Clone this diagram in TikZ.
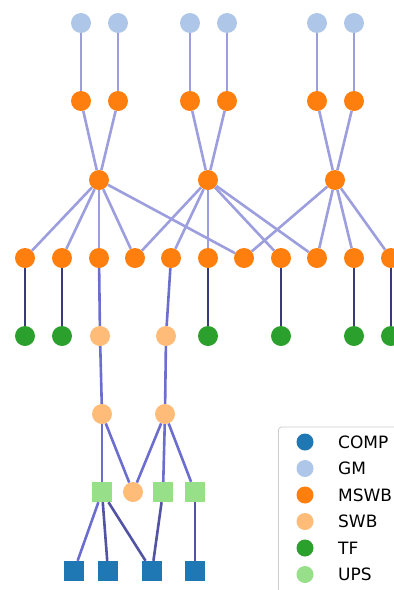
\documentclass[tikz,border=0pt]{standalone}
\usepackage{fontspec}
\setmainfont{DejaVu Sans}
\usetikzlibrary{positioning}

\definecolor{compc}{HTML}{1F77B4}
\definecolor{gmc}{HTML}{AEC7E8}
\definecolor{mswbc}{HTML}{FF7F0E}
\definecolor{swbc}{HTML}{FFBB78}
\definecolor{tfc}{HTML}{2CA02C}
\definecolor{upsc}{HTML}{98DF8A}
\definecolor{wireA}{HTML}{9C9EDE}
\definecolor{wireB}{HTML}{6B6ECF}
\definecolor{wireC}{HTML}{5254A3}
\definecolor{wireD}{HTML}{393B79}

\begin{document}
\begin{tikzpicture}[x=1pt,y=-1pt,
    dot/.style={circle,inner sep=0pt,minimum size=20pt,fill=#1},
    sq/.style={rectangle,inner sep=0pt,minimum size=20pt,fill=#1},
    feed/.style={line width=2.6pt,color=#1}]
    \clip (0,0) rectangle (394,590);

    % Generators and their switchboards
    \foreach \i/\x in {1/81,2/118,3/190,4/227,5/317,6/354} {
        \node[dot=gmc] (gm\i) at (\x,23) {};
        \node[dot=mswbc] (top\i) at (\x,101) {};
        \draw[feed=wireA] (gm\i) -- (top\i);
    }

    % Main switchboards
    \node[dot=mswbc] (hub1) at (99,180) {};
    \node[dot=mswbc] (hub2) at (208,180) {};
    \node[dot=mswbc] (hub3) at (335,180) {};
    \draw[feed=wireA] (top1) -- (hub1);
    \draw[feed=wireA] (top2) -- (hub1);
    \draw[feed=wireA] (top3) -- (hub2);
    \draw[feed=wireA] (top4) -- (hub2);
    \draw[feed=wireA] (top5) -- (hub3);
    \draw[feed=wireA] (top6) -- (hub3);

    % Distribution row
    \foreach \i/\x in {1/25,2/62,3/99,4/135,5/171,6/208,7/244,8/281,9/317,10/354,11/391}
        \node[dot=mswbc] (ms\i) at (\x,258) {};
    \foreach \j in {1,2,3,4,7} \draw[feed=wireA] (hub1) -- (ms\j);
    \foreach \j in {4,5,6,8,9} \draw[feed=wireA] (hub2) -- (ms\j);
    \foreach \j in {7,9,10,11} \draw[feed=wireA] (hub3) -- (ms\j);

    % Transformers
    \foreach \i/\j/\x in {1/1/25,2/2/62,3/6/208,4/8/281,5/10/354,6/11/391} {
        \node[dot=tfc] (tf\i) at (\x,336) {};
        \draw[feed=wireD] (ms\j) -- (tf\i);
    }

    % Sub switchboards
    \node[dot=swbc] (swb1) at (100,336) {};
    \node[dot=swbc] (swb2) at (166,336) {};
    \node[dot=swbc] (swb3) at (102,414) {};
    \node[dot=swbc] (swb4) at (165,414) {};
    \node[dot=swbc] (swb5) at (133,492) {};
    \draw[feed=wireB] (ms3) -- (swb1);
    \draw[feed=wireB] (ms5) -- (swb2);
    \draw[feed=wireB] (swb1) -- (swb3);
    \draw[feed=wireB] (swb2) -- (swb4);

    % UPS units
    \node[sq=upsc] (ups1) at (102,492) {};
    \node[sq=upsc] (ups2) at (163,492) {};
    \node[sq=upsc] (ups3) at (195,492) {};
    \draw[feed=wireB] (swb3) -- (ups1);
    \draw[feed=wireB] (swb3) -- (swb5);
    \draw[feed=wireB] (swb4) -- (swb5);
    \draw[feed=wireB] (swb4) -- (ups2);
    \draw[feed=wireB] (swb4) -- (ups3);

    % Computers
    \node[sq=compc] (comp1) at (74,571) {};
    \node[sq=compc] (comp2) at (108,571) {};
    \node[sq=compc] (comp3) at (152,571) {};
    \node[sq=compc] (comp4) at (195,571) {};
    \draw[feed=wireB] (ups1) -- (comp1);
    \draw[feed=wireC] (ups1) -- (comp2);
    \draw[feed=wireC] (ups1) -- (comp3);
    \draw[feed=wireC] (ups2) -- (comp3);
    \draw[feed=wireC] (ups3) -- (comp4);

    % Legend
    \draw[draw=black!20,fill=white,rounded corners=3pt,line width=0.8pt]
        (278.5,427) rectangle (420,620);
    \foreach \k/\lab/\col [count=\n from 0] in {comp/COMP/compc,gm/GM/gmc,mswb/MSWB/mswbc,swb/SWB/swbc,tf/TF/tfc,ups/UPS/upsc} {
        \node[circle,inner sep=0pt,minimum size=17pt,fill=\col] (key\k) at (305,442+26.5*\n) {};
        \node[anchor=west,inner sep=0pt,font=\fontsize{17}{20}\selectfont] (lab\k) at (338,442+26.5*\n) {\lab};
    }

\end{tikzpicture}
\end{document}
